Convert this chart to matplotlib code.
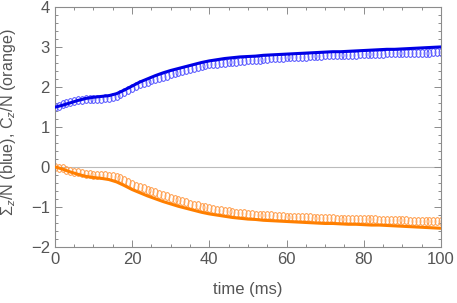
import numpy as np
import matplotlib
matplotlib.use("Agg")
import matplotlib.pyplot as plt
from matplotlib.path import Path
from matplotlib.ticker import MultipleLocator

# ---- data ----
t_pts = list(range(0, 101))
sigma_pts = [1.50,1.53,1.56,1.59,1.62,1.64,1.66,1.68,1.69,1.70,1.70,
             1.70,1.70,1.71,1.72,1.74,1.77,1.81,1.86,1.92,1.98,
             2.02,2.06,2.10,2.13,2.16,2.19,2.22,2.25,2.28,2.31,
             2.34,2.37,2.40,2.42,2.45,2.47,2.49,2.51,2.54,2.56,
             2.57,2.58,2.59,2.60,2.61,2.62,2.63,2.64,2.65,2.66,
             2.67,2.68,2.68,2.69,2.70,2.71,2.71,2.72,2.73,2.74,
             2.74,2.75,2.75,2.76,2.76,2.77,2.77,2.78,2.78,2.79,
             2.79,2.79,2.80,2.80,2.80,2.81,2.81,2.81,2.82,2.82,
             2.82,2.83,2.83,2.83,2.83,2.84,2.84,2.84,2.85,2.85,
             2.85,2.85,2.86,2.86,2.86,2.86,2.86,2.87,2.87,2.87]
c_pts = [0.00,-0.02,-0.04,-0.07,-0.10,-0.12,-0.14,-0.16,-0.18,-0.19,-0.20,
         -0.21,-0.21,-0.21,-0.22,-0.23,-0.25,-0.28,-0.32,-0.37,-0.43,
         -0.47,-0.50,-0.53,-0.57,-0.60,-0.63,-0.67,-0.70,-0.74,-0.77,
         -0.80,-0.83,-0.86,-0.89,-0.92,-0.95,-0.97,-1.00,-1.02,-1.04,
         -1.06,-1.08,-1.09,-1.11,-1.12,-1.13,-1.15,-1.16,-1.17,-1.18,
         -1.19,-1.20,-1.20,-1.21,-1.22,-1.22,-1.23,-1.23,-1.24,-1.25,
         -1.25,-1.26,-1.26,-1.26,-1.27,-1.27,-1.28,-1.28,-1.28,-1.29,
         -1.29,-1.29,-1.30,-1.30,-1.30,-1.31,-1.31,-1.31,-1.31,-1.32,
         -1.32,-1.32,-1.32,-1.33,-1.33,-1.33,-1.33,-1.34,-1.34,-1.34,
         -1.34,-1.35,-1.35,-1.35,-1.35,-1.36,-1.36,-1.36,-1.36,-1.37]

t_line = list(range(0, 101, 2))
sigma_line = [1.49,1.54,1.60,1.66,1.71,1.74,1.76,1.78,1.83,1.92,2.02,
              2.12,2.20,2.28,2.35,2.41,2.46,2.51,2.56,2.61,2.65,
              2.68,2.71,2.73,2.75,2.76,2.77,2.79,2.80,2.81,2.82,
              2.83,2.84,2.85,2.86,2.87,2.88,2.88,2.89,2.90,2.91,
              2.92,2.93,2.94,2.94,2.95,2.96,2.97,2.98,2.99,3.00]
c_line = [0.00,-0.06,-0.13,-0.19,-0.24,-0.27,-0.29,-0.32,-0.38,-0.47,-0.57,
          -0.65,-0.73,-0.80,-0.87,-0.93,-0.99,-1.04,-1.09,-1.14,-1.18,
          -1.21,-1.24,-1.27,-1.29,-1.31,-1.32,-1.34,-1.35,-1.36,-1.37,
          -1.38,-1.39,-1.40,-1.41,-1.42,-1.42,-1.43,-1.44,-1.44,-1.45,
          -1.46,-1.46,-1.47,-1.48,-1.49,-1.50,-1.51,-1.52,-1.53,-1.54]

x_ticks = [0, 20, 40, 60, 80, 100]
y_ticks = [-2, -1, 0, 1, 2, 3, 4]

plt.rcParams['font.family'] = ['Liberation Sans', 'DejaVu Sans']
plt.rcParams['mathtext.fontset'] = 'custom'
plt.rcParams['mathtext.rm'] = 'Liberation Sans'
plt.rcParams['mathtext.it'] = 'Liberation Sans:italic'

fig = plt.figure(figsize=(4.57, 3.03), dpi=100)
ax = fig.add_axes([0.120, 0.186, 0.845, 0.791])

uc = Path.unit_circle()
ell = Path(uc.vertices * np.array([0.62, 1.0]), uc.codes)

ax.axhline(0, color='#bbbbbb', lw=0.8, zorder=1)

ax.plot(t_line, sigma_line, color='#0000e6', lw=2.2, zorder=3, solid_capstyle='butt')
ax.plot(t_line, c_line, color='#ff7f00', lw=2.2, zorder=3, solid_capstyle='butt')
ax.plot(t_pts, sigma_pts, ls='none', marker=ell, ms=5.6, mfc='none',
        mec='#5a5aff', mew=0.75, zorder=2)
ax.plot(t_pts, c_pts, ls='none', marker=ell, ms=5.6, mfc='none',
        mec='#ffa050', mew=0.75, zorder=2)

ax.set_xlim(0, 100)
ax.set_ylim(-2, 4)
ax.set_xticks(x_ticks)
ax.set_yticks(y_ticks)
ax.set_yticklabels([('\u2212' + str(-v)) if v < 0 else str(v) for v in y_ticks])
ax.xaxis.set_minor_locator(MultipleLocator(5))
ax.yaxis.set_minor_locator(MultipleLocator(0.2))
gray = '#8c8c8c'
for s in ax.spines.values():
    s.set_color(gray)
    s.set_linewidth(0.8)
ax.tick_params(which='both', direction='in', top=True, right=True, color=gray,
               labelcolor='#555555', labelsize=12, width=0.7)
ax.tick_params(which='major', length=5)
ax.tick_params(which='minor', length=2.5)
ax.tick_params(axis='x', pad=3.5)
ax.tick_params(axis='y', pad=3.5)

ax.set_xlabel('time (ms)', fontsize=12, color='#555555')
ax.set_ylabel(r'$\Sigma_z$/N (blue), $\mathrm{C}_z$/N (orange)', fontsize=11.6,
              color='#555555')
ax.xaxis.set_label_coords(0.5, -0.148)
ax.yaxis.set_label_coords(-0.095, 0.52)

fig.savefig('out.png', dpi=100)
